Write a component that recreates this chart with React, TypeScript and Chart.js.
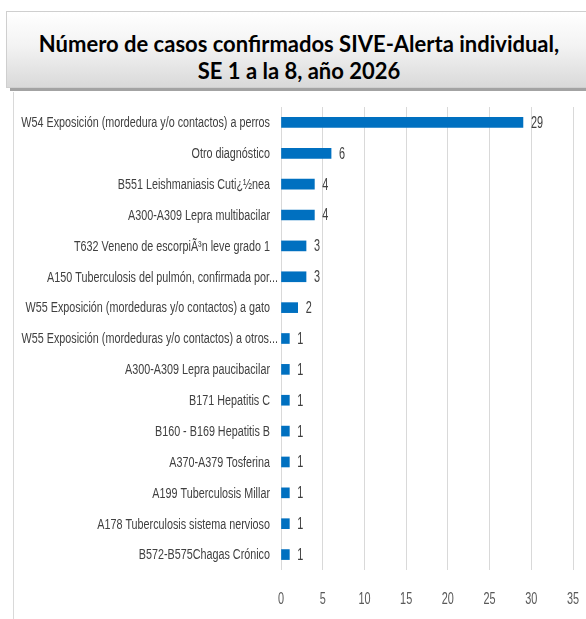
import React, { useEffect, useRef } from "react";
import { Chart, registerables } from "chart.js";

Chart.register(...registerables);

const categories: string[] = [
  "W54 Exposición (mordedura y/o contactos) a perros",
  "Otro diagnóstico",
  "B551 Leishmaniasis Cuti¿½nea",
  "A300-A309 Lepra multibacilar",
  "T632 Veneno de escorpiÃ³n leve grado 1",
  "A150 Tuberculosis del pulmón, confirmada por...",
  "W55 Exposición (mordeduras y/o contactos) a gato",
  "W55 Exposición (mordeduras y/o contactos) a otros...",
  "A300-A309 Lepra paucibacilar",
  "B171 Hepatitis C",
  "B160 - B169 Hepatitis B",
  "A370-A379 Tosferina",
  "A199 Tuberculosis Millar",
  "A178 Tuberculosis sistema nervioso",
  "B572-B575Chagas Crónico",
];

const casos: number[] = [29, 6, 4, 4, 3, 3, 2, 1, 1, 1, 1, 1, 1, 1, 1];

const xMin = 0;
const xMax = 35;
const xStep = 5;

const FONT = '"Liberation Sans", Arial, sans-serif';

function squeezed(ctx: CanvasRenderingContext2D, text: string, x: number, y: number, align: CanvasTextAlign, sx: number) {
  ctx.save();
  ctx.translate(x, y);
  ctx.scale(sx, 1);
  ctx.textAlign = align;
  ctx.textBaseline = "middle";
  ctx.fillText(text, 0, 0);
  ctx.restore();
}

const narrowLabels = {
  id: "narrowLabels",
  afterDatasetsDraw(chart: any) {
    const ctx = chart.ctx as CanvasRenderingContext2D;
    const area = chart.chartArea;
    const yScale = chart.scales.y;
    const xScale = chart.scales.x;
    ctx.save();
    // category labels (y axis)
    ctx.fillStyle = "#404040";
    ctx.font = `14px ${FONT}`;
    yScale.ticks.forEach((t: any, i: number) => {
      const label = String(chart.data.labels[t.value]);
      const truncated = label.endsWith("...");
      squeezed(ctx, label, area.left - (truncated ? 3 : 11), yScale.getPixelForTick(i) + 1, "right", 0.77);
    });
    // value axis labels (x axis)
    ctx.fillStyle = "#595959";
    ctx.font = `16px ${FONT}`;
    xScale.ticks.forEach((t: any, i: number) => {
      squeezed(ctx, String(t.label), xScale.getPixelForTick(i), area.bottom + 30, "center", 0.68);
    });
    // data labels
    ctx.fillStyle = "#404040";
    ctx.font = `16px ${FONT}`;
    const meta = chart.getDatasetMeta(0);
    meta.data.forEach((bar: any, i: number) => {
      const v = chart.data.datasets[0].data[i];
      squeezed(ctx, String(v), bar.x + 8, bar.y + 1, "left", 0.68);
    });
    ctx.restore();
  },
};

export default function App() {
  const ref = useRef<HTMLCanvasElement | null>(null);

  useEffect(() => {
    if (!ref.current) return;
    const chart = new Chart(ref.current, {
      type: "bar",
      data: {
        labels: categories,
        datasets: [
          {
            data: casos,
            backgroundColor: "#0070C0",
            borderWidth: 0,
            barThickness: 10,
          },
        ],
      },
      options: {
        indexAxis: "y",
        animation: false,
        responsive: false,
        maintainAspectRatio: false,
        layout: { padding: { top: 15, right: 13, left: 0, bottom: 0 } },
        plugins: {
          legend: { display: false },
          tooltip: { enabled: false },
          title: { display: false },
        },
        scales: {
          x: {
            min: xMin,
            max: xMax,
            border: { display: false },
            grid: { color: "#d9d9d9", drawTicks: false, lineWidth: 1 },
            ticks: {
              stepSize: xStep,
              display: false,
            },
            afterFit: (scale: any) => {
              scale.height = 49;
              scale.paddingLeft = 0;
              scale.paddingRight = 0;
            },
          },
          y: {
            border: { display: false },
            grid: { display: false, drawTicks: false },
            ticks: { display: false, autoSkip: false },
            afterFit: (scale: any) => {
              scale.width = 268;
              scale.paddingTop = 0;
              scale.paddingBottom = 0;
            },
          },
        },
      },
      plugins: [narrowLabels],
    });
    return () => chart.destroy();
  }, []);

  return (
    <div style={{ position: "relative", width: 586, height: 619, background: "#fff", overflow: "hidden" }}>
      <style>{"body{margin:0;}"}</style>
      <div
        style={{
          position: "absolute",
          left: 6,
          top: 11,
          width: 600,
          height: 77,
          boxSizing: "border-box",
          border: "1px solid #cfcfcf",
          background: "linear-gradient(#ffffff 0%, #f3f3f3 45%, #d9d9d9 100%)",
          boxShadow: "4px 3px 0 #a3a3a3",
        }}
      />
      <div
        style={{
          position: "absolute",
          left: 6,
          top: 30,
          width: 586,
          textAlign: "center",
          fontFamily: "Lato, 'Open Sans', sans-serif",
          fontWeight: 700,
          fontSize: 22,
          lineHeight: "27px",
          color: "#000",
        }}
      >
        Número de casos confirmados SIVE-Alerta individual,
        <br />
        SE 1 a la 8, año 2026
      </div>
      <div
        style={{
          position: "absolute",
          left: 13,
          top: 92,
          width: 0,
          height: 527,
          borderLeft: "1px solid #d9d9d9",
        }}
      />
      <canvas
        ref={ref}
        width={573}
        height={527}
        style={{ position: "absolute", left: 13, top: 92, width: 573, height: 527 }}
      />
    </div>
  );
}
